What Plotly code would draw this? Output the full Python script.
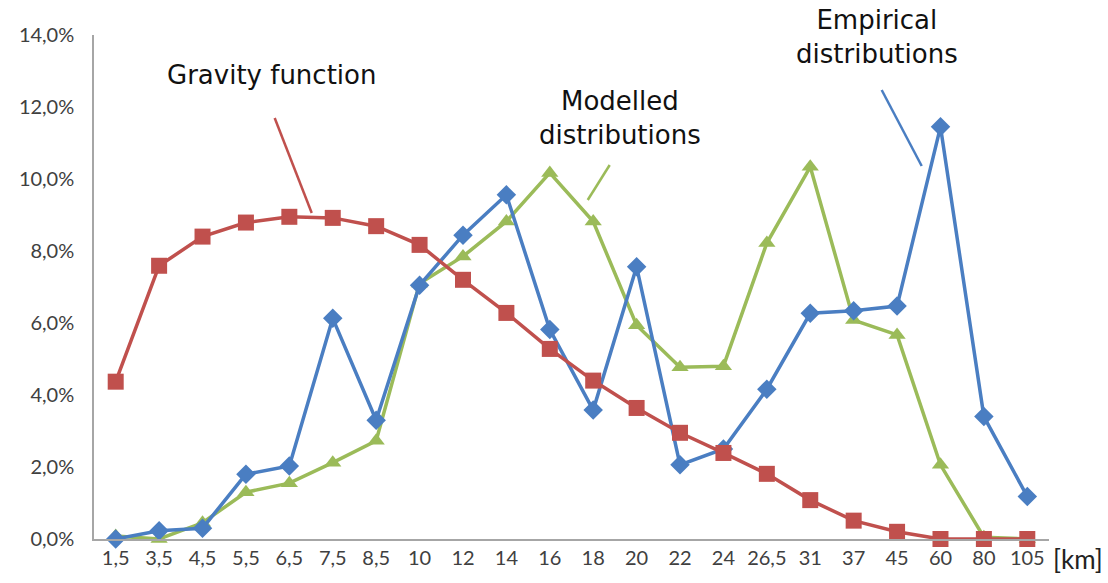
import plotly.graph_objects as go

categories = ["1,5", "3,5", "4,5", "5,5", "6,5", "7,5", "8,5", "10", "12", "14", "16",
              "18", "20", "22", "24", "26,5", "31", "37", "45", "60", "80", "105"]

gravity = [4.37, 7.59, 8.40, 8.79, 8.95, 8.92, 8.69, 8.17, 7.20, 6.28, 5.28,
           4.40, 3.64, 2.95, 2.39, 1.81, 1.08, 0.51, 0.20, 0.0, 0.0, 0.0]

empirical = [0.0, 0.23, 0.30, 1.80, 2.03, 6.13, 3.30, 7.05, 8.44, 9.56, 5.82,
             3.58, 7.56, 2.06, 2.50, 4.16, 6.27, 6.34, 6.47, 11.45, 3.40, 1.18]

modelled = [0.08, 0.0, 0.45, 1.30, 1.55, 2.12, 2.73, 7.10, 7.85, 8.82, 10.17,
            8.82, 5.94, 4.77, 4.80, 8.22, 10.34, 6.08, 5.67, 2.06, 0.05, 0.0]

ytick_vals = [0, 2, 4, 6, 8, 10, 12, 14]
ytick_text = ["0,0%", "2,0%", "4,0%", "6,0%", "8,0%", "10,0%", "12,0%", "14,0%"]

RED = "#C0504D"
BLUE = "#4A7EC2"
GREEN = "#9BBB59"

fig = go.Figure()
fig.add_trace(go.Scatter(x=categories, y=modelled, mode="lines+markers", name="Modelled",
                         line=dict(color=GREEN, width=3.5),
                         marker=dict(symbol="triangle-up", size=15, color=GREEN),
                         cliponaxis=False))
fig.add_trace(go.Scatter(x=categories, y=empirical, mode="lines+markers", name="Empirical",
                         line=dict(color=BLUE, width=3.5),
                         marker=dict(symbol="diamond", size=15, color=BLUE),
                         cliponaxis=False))
fig.add_trace(go.Scatter(x=categories, y=gravity, mode="lines+markers", name="Gravity",
                         line=dict(color=RED, width=3.5),
                         marker=dict(symbol="square", size=16, color=RED),
                         cliponaxis=False))

tick_font = dict(family="Lato, Liberation Sans, sans-serif", size=20, color="#404040")
label_font = dict(family="DejaVu Sans, sans-serif", size=26, color="#111111")

fig.update_layout(
    width=1108, height=583,
    margin=dict(l=94, r=59, t=35, b=44),
    paper_bgcolor="white", plot_bgcolor="white",
    showlegend=False,
    xaxis=dict(type="category", range=[-0.5, 21.5], showgrid=False, zeroline=False,
               showline=True, linecolor="#A6A6A6", linewidth=1.5, ticks="",
               tickfont=tick_font, ticklabelstandoff=0),
    yaxis=dict(range=[0, 14], showgrid=False, zeroline=False, showline=True,
               linecolor="#A6A6A6", linewidth=1.5, ticks="",
               tickvals=ytick_vals, ticktext=ytick_text, tickfont=tick_font,
               ticklabelstandoff=14),
)

# leader lines
fig.add_shape(type="line", xref="paper", yref="paper", x0=0.1892, y0=0.8353, x1=0.228, y1=0.6468,
              line=dict(color=RED, width=2.5))
fig.add_shape(type="line", xref="paper", yref="paper", x0=0.540, y0=0.742, x1=0.517, y1=0.6726,
              line=dict(color=GREEN, width=2.5))
fig.add_shape(type="line", xref="paper", yref="paper", x0=0.8248, y0=0.8909, x1=0.8667, y1=0.740,
              line=dict(color=BLUE, width=2.5))

fig.add_annotation(xref="paper", yref="paper", x=0.1861, y=0.9206, text="Gravity function",
                   showarrow=False, font=label_font, xanchor="center", yanchor="middle")
fig.add_annotation(xref="paper", yref="paper", x=0.5505, y=0.835, text="Modelled<br>distributions",
                   showarrow=False, font=label_font, xanchor="center", yanchor="middle")
fig.add_annotation(xref="paper", yref="paper", x=0.8196, y=0.996, text="Empirical<br>distributions",
                   showarrow=False, font=label_font, xanchor="center", yanchor="middle")
fig.add_annotation(xref="paper", yref="paper", x=1.030, y=-0.040, text="[km]",
                   showarrow=False, font=dict(family="Lato, Liberation Sans, sans-serif", size=26, color="#222222"),
                   xanchor="center", yanchor="middle")

fig.write_html("out.html", config={"displayModeBar": False},
               post_script="document.body.style.margin='0';document.body.style.overflow='hidden';")
